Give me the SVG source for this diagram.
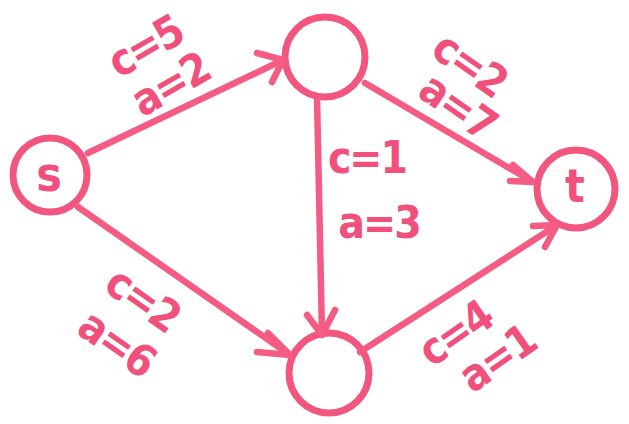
<svg xmlns="http://www.w3.org/2000/svg" width="629" height="424" viewBox="0 0 629 424">
<style>
.n{fill:none;stroke:#f2567f;stroke-width:7}
.e{fill:none;stroke:#f45c84;stroke-width:6.5;stroke-linecap:round;stroke-linejoin:round}
.l{font-family:"DejaVu Sans Condensed","DejaVu Sans",sans-serif;font-weight:bold;font-size:44px;fill:#f0507b;text-anchor:middle;dominant-baseline:central;letter-spacing:-2px}
</style>
<rect width="629" height="424" fill="#fff"/>
<g id="s"><circle class="n" cx="50" cy="175" r="37"/><text class="l" x="48" y="174" style="font-size:48px">s</text></g>
<g id="u"><circle class="n" cx="325" cy="57" r="40"/></g>
<g id="v"><circle class="n" cx="329" cy="373" r="40"/></g>
<g id="t"><circle class="n" cx="576" cy="189" r="39"/><text class="l" x="574" y="186" style="font-size:46px">t</text></g>
<g id="edges">
<path class="e" d="M88 153 L283 60 M257 53 L283 60 L272 82"/>
<path class="e" d="M365 83 L533 182 M513 165 L533 182 L510 181"/>
<path class="e" d="M317 98 L322 335 M307 315 L322 335 L335 310"/>
<path class="e" d="M78 207 L290 355 M257 352 L290 355 L268 333"/>
<path class="e" d="M360 352 L557 225 M533 226 L557 225 L545 247"/>
</g>
<g id="labels">
<text class="l" transform="translate(145,46) rotate(-30)">c=5</text>
<text class="l" transform="translate(170,84) rotate(-30)">a=2</text>
<text class="l" transform="translate(470,64) rotate(35)">c=2</text>
<text class="l" transform="translate(458,106) rotate(35)">a=7</text>
<text class="l" x="367" y="157">c=1</text>
<text class="l" x="379" y="222">a=3</text>
<text class="l" transform="translate(143,299) rotate(35)">c=2</text>
<text class="l" transform="translate(117,343) rotate(35)">a=6</text>
<text class="l" transform="translate(455,333) rotate(-35)">c=4</text>
<text class="l" transform="translate(497,358) rotate(-35)">a=1</text>
</g>
</svg>
